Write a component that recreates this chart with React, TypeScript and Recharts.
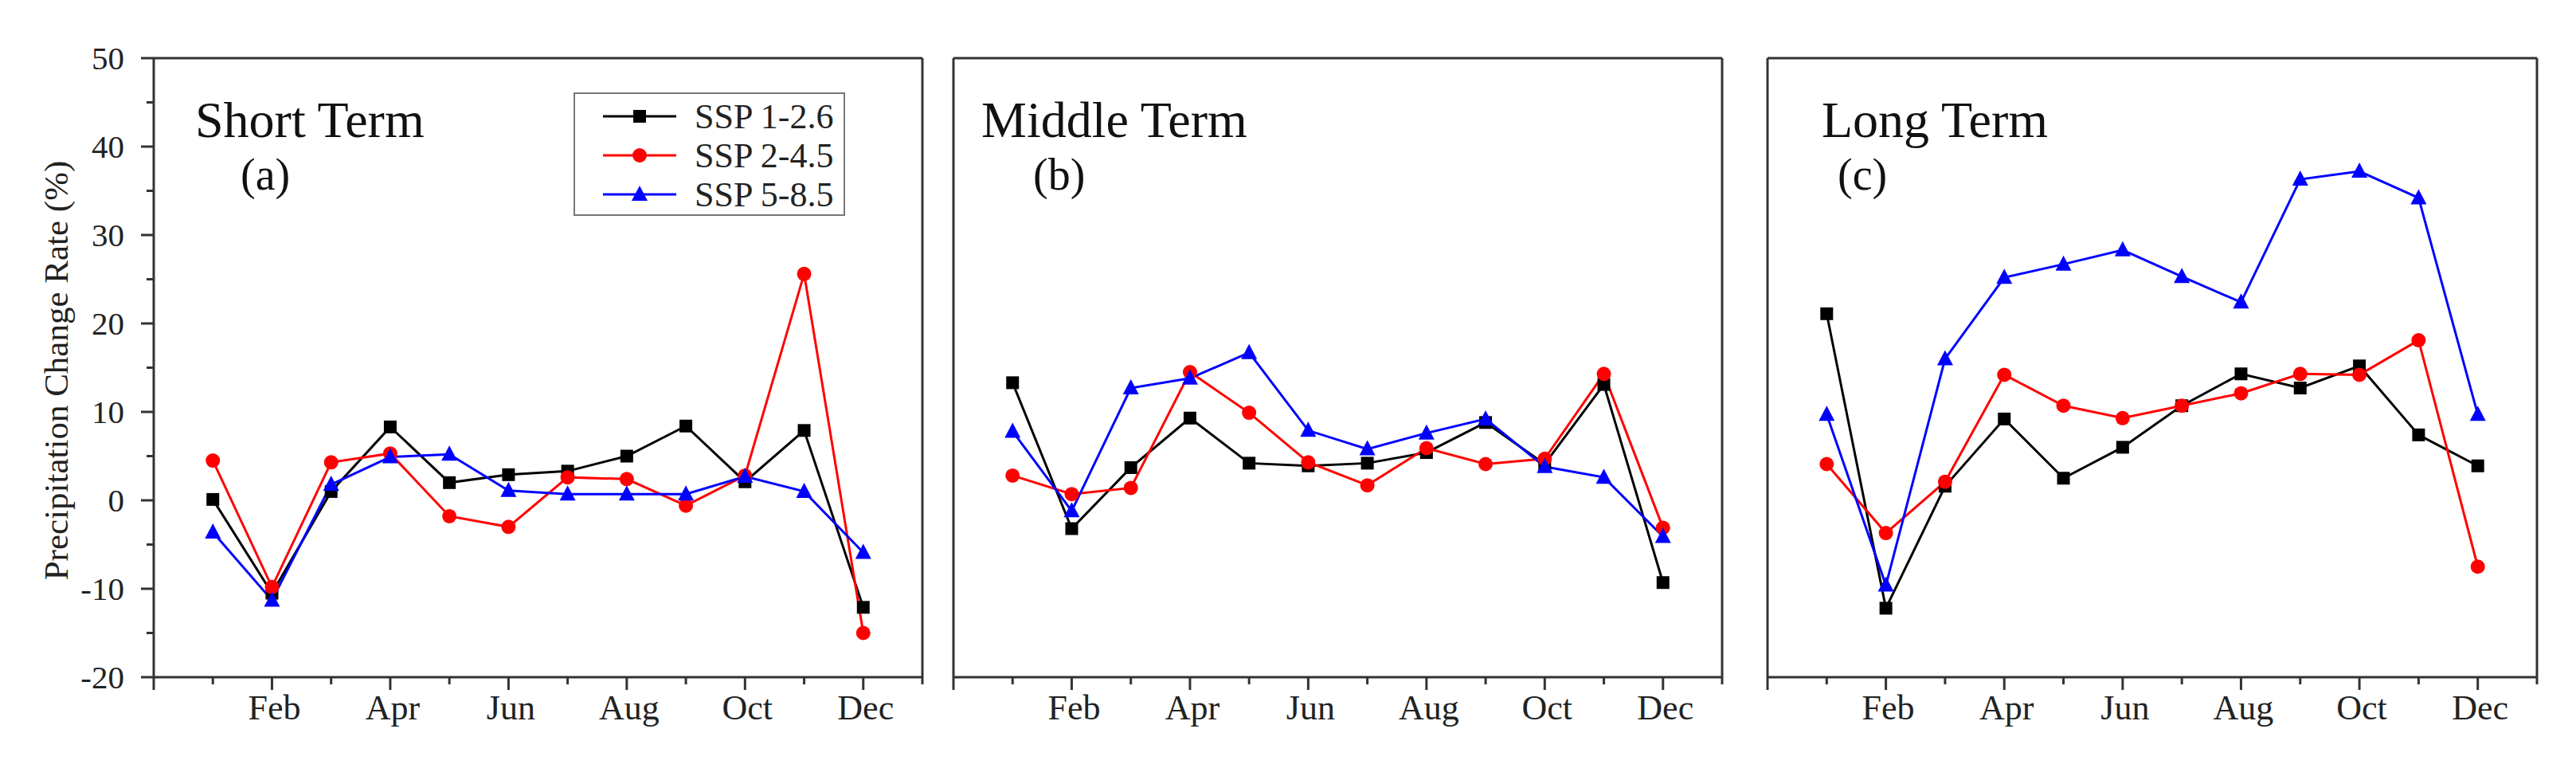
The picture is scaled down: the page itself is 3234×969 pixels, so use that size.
import React from 'react';
import { LineChart, Line, XAxis, YAxis, Legend, Customized, Label, ReferenceLine } from 'recharts';

document.body.style.margin = '0';

const FONT = '"Liberation Serif", "Times New Roman", serif';
const FRAME = '#333333';

const MONTHS = ['Jan', 'Feb', 'Mar', 'Apr', 'May', 'Jun', 'Jul', 'Aug', 'Sep', 'Oct', 'Nov', 'Dec'];
const X_TICKS = [0, 1, 2, 3, 4, 5, 6, 7, 8, 9, 10, 11, 12, 13];
const Y_TICKS = [-20, -15, -10, -5, 0, 5, 10, 15, 20, 25, 30, 35, 40, 45, 50];

// values (%)
const SHORT_SSP126 = [0.1, -10.5, 1.0, 8.3, 2.0, 2.9, 3.3, 5.0, 8.4, 2.1, 7.9, -12.1];
const SHORT_SSP245 = [4.5, -9.8, 4.3, 5.3, -1.8, -3.0, 2.6, 2.4, -0.6, 2.8, 25.6, -15.0];
const SHORT_SSP585 = [-3.6, -11.3, 1.8, 4.9, 5.2, 1.1, 0.7, 0.7, 0.7, 2.7, 1.0, -5.9];

const MIDDLE_SSP126 = [13.3, -3.2, 3.7, 9.3, 4.2, 3.9, 4.2, 5.4, 8.8, 4.1, 13.1, -9.3];
const MIDDLE_SSP245 = [2.8, 0.7, 1.4, 14.5, 9.9, 4.3, 1.7, 5.9, 4.1, 4.7, 14.3, -3.1];
const MIDDLE_SSP585 = [7.8, -1.2, 12.7, 13.8, 16.7, 7.9, 5.8, 7.6, 9.2, 3.8, 2.6, -4.1];

const LONG_SSP126 = [21.1, -12.2, 1.6, 9.2, 2.5, 6.0, 10.7, 14.3, 12.7, 15.2, 7.4, 3.9];
const LONG_SSP245 = [4.1, -3.7, 2.1, 14.2, 10.7, 9.3, 10.7, 12.1, 14.3, 14.2, 18.1, -7.5];
const LONG_SSP585 = [9.7, -9.6, 16.0, 25.2, 26.7, 28.3, 25.3, 22.4, 36.3, 37.2, 34.2, 9.7];

const SERIES = [
  { key: 's126', name: 'SSP 1-2.6', color: '#000000', shape: 'square' },
  { key: 's245', name: 'SSP 2-4.5', color: '#ff0000', shape: 'circle' },
  { key: 's585', name: 'SSP 5-8.5', color: '#0000ff', shape: 'triangle' },
];

const toRows = (a: number[], b: number[], c: number[]) =>
  MONTHS.map((_, i) => ({ m: i + 1, s126: a[i], s245: b[i], s585: c[i] }));

function Marker({ cx, cy, shape, color }: any) {
  if (cx == null || cy == null) return null;
  if (shape === 'square') return <rect x={cx - 8} y={cy - 8} width={16} height={16} fill={color} />;
  if (shape === 'circle') return <circle cx={cx} cy={cy} r={9} fill={color} />;
  return <polygon points={`${cx},${cy - 11} ${cx - 10},${cy + 8} ${cx + 10},${cy + 8}`} fill={color} />;
}

const MonthTick = ({ x, y, payload }: any) => {
  const v = payload.value;
  const major = v % 2 === 0;
  const label = major && v > 0 ? MONTHS[v - 1] : '';
  return (
    <g>
      <line x1={x} y1={y} x2={x} y2={y + (major ? 16 : 9)} stroke={FRAME} strokeWidth={3} />
      {label && (
        <text x={x + 3} y={y + 53} textAnchor="middle" style={{ fontFamily: FONT, fontSize: 44 }} fill="#222">
          {label}
        </text>
      )}
    </g>
  );
};

const ValueTick = ({ x, y, payload }: any) => {
  const v = payload.value;
  const major = v % 10 === 0;
  return (
    <g>
      <line x1={x} y1={y} x2={x - (major ? 16 : 9)} y2={y} stroke={FRAME} strokeWidth={3} />
      {major && (
        <text x={x - 37} y={y + 14} textAnchor="end" style={{ fontFamily: FONT, fontSize: 41 }} fill="#222">
          {v}
        </text>
      )}
    </g>
  );
};

const LegendBox = () => (
  <svg width={341} height={155} style={{ display: 'block' }}>
    <rect x={1} y={1} width={339} height={153} fill="#fff" stroke="#777" strokeWidth={2} />
    {SERIES.map((s, i) => {
      const y = 30 + i * 49;
      return (
        <g key={s.key}>
          <line x1={37} y1={y} x2={129} y2={y} stroke={s.color} strokeWidth={3} />
          <Marker cx={83} cy={y} shape={s.shape} color={s.color} />
          <text x={152} y={y + 15} style={{ fontFamily: FONT, fontSize: 44 }} fill="#222">
            {s.name}
          </text>
        </g>
      );
    })}
  </svg>
);

type PanelProps = {
  left: number;
  plotWidth: number;
  axisWidth: number;
  rows: any[];
  title: string;
  tag: string;
  titleDx: number;
  tagDx: number;
  first?: boolean;
};

function Panel({ left, plotWidth, axisWidth, rows, title, tag, titleDx, tagDx, first }: PanelProps) {
  const width = axisWidth + plotWidth + 10;
  return (
    <div style={{ position: 'absolute', left, top: 0 }}>
      <LineChart width={width} height={969} data={rows} margin={{ top: 73, right: 10, bottom: 0, left: 0 }}>
        <XAxis
          dataKey="m"
          type="number"
          domain={[0, 13]}
          ticks={X_TICKS}
          interval={0}
          tickSize={0}
          tickMargin={0}
          tick={<MonthTick />}
          height={119}
          axisLine={{ stroke: FRAME, strokeWidth: 3 }}
        />
        <YAxis
          type="number"
          domain={[-20, 50]}
          ticks={Y_TICKS}
          interval={0}
          width={axisWidth}
          tickSize={0}
          tickMargin={0}
          tick={first ? <ValueTick /> : false}
          tickLine={false}
          axisLine={{ stroke: FRAME, strokeWidth: 3 }}
        >
          {first && (
            <Label
              content={() => (
                <text
                  transform="translate(70,465) rotate(-90)"
                  textAnchor="middle"
                  dominantBaseline="central"
                  style={{ fontFamily: FONT, fontSize: 43 }}
                  fill="#222"
                >
                  Precipitation Change Rate (%)
                </text>
              )}
            />
          )}
        </YAxis>
        {/* frame: top and right edges */}
        <ReferenceLine y={50} stroke={FRAME} strokeWidth={3} />
        <ReferenceLine x={13} stroke={FRAME} strokeWidth={3} />
        <Customized
          component={() => (
            <g fill="#111" style={{ fontFamily: FONT }}>
              <text x={axisWidth + titleDx} y={172} style={{ fontFamily: FONT, fontSize: 64 }}>
                {title}
              </text>
              <text x={axisWidth + tagDx} y={238} style={{ fontFamily: FONT, fontSize: 56 }}>
                {tag}
              </text>
            </g>
          )}
        />
        {SERIES.map((s) => (
          <Line
            key={s.key}
            dataKey={s.key}
            name={s.name}
            stroke={s.color}
            strokeWidth={3}
            isAnimationActive={false}
            dot={(p: any) => <Marker key={`${s.key}-${p.index}`} cx={p.cx} cy={p.cy} shape={s.shape} color={s.color} />}
            activeDot={false}
          />
        ))}
        {first && (
          <Legend
            layout="vertical"
            align="center"
            verticalAlign="middle"
            wrapperStyle={{ left: 720, top: 116, width: 341, height: 155 }}
            content={() => <LegendBox />}
          />
        )}
      </LineChart>
    </div>
  );
}

export default function App() {
  return (
    <div style={{ position: 'relative', width: 3234, height: 969, background: '#fff' }}>
      <Panel
        left={0}
        axisWidth={193}
        plotWidth={965}
        rows={toRows(SHORT_SSP126, SHORT_SSP245, SHORT_SSP585)}
        title="Short Term"
        tag="(a)"
        titleDx={52}
        tagDx={109}
        first
      />
      <Panel
        left={1177}
        axisWidth={20}
        plotWidth={965}
        rows={toRows(MIDDLE_SSP126, MIDDLE_SSP245, MIDDLE_SSP585)}
        title="Middle Term"
        tag="(b)"
        titleDx={35}
        tagDx={100}
      />
      <Panel
        left={2199}
        axisWidth={20}
        plotWidth={966}
        rows={toRows(LONG_SSP126, LONG_SSP245, LONG_SSP585)}
        title="Long Term"
        tag="(c)"
        titleDx={68}
        tagDx={88}
      />
    </div>
  );
}
